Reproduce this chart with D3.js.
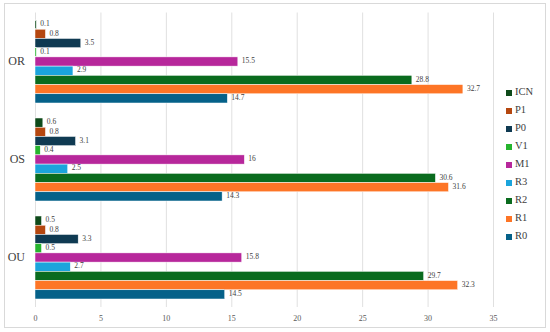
<!DOCTYPE html>
<html>
<head>
<meta charset="utf-8">
<script src="https://cdn.jsdelivr.net/npm/d3@7"></script>
<style>
  body { margin: 0; background: #fff; }
  svg text { font-family: "Liberation Serif", "DejaVu Serif", serif; }
</style>
</head>
<body>
<svg id="chart" width="550" height="332"></svg>
<script>
// Data
var groups = ['OR', 'OS', 'OU'];
var series = ['ICN', 'P1', 'P0', 'V1', 'M1', 'R3', 'R2', 'R1', 'R0'];
var valuesOR = [0.1, 0.8, 3.5, 0.1, 15.5, 2.9, 28.8, 32.7, 14.7];
var valuesOS = [0.6, 0.8, 3.1, 0.4, 16, 2.5, 30.6, 31.6, 14.3];
var valuesOU = [0.5, 0.8, 3.3, 0.5, 15.8, 2.7, 29.7, 32.3, 14.5];
var xTicks = [0, 5, 10, 15, 20, 25, 30, 35];
var colors = ['#0e4a1a', '#b5470f', '#0f3a52', '#26b42e', '#b7279b', '#1ba4dc', '#0a6b1e', '#fd7526', '#056189'];

var groupValues = { OR: valuesOR, OS: valuesOS, OU: valuesOU };

var svg = d3.select('#chart');

// outer frame
svg.append('rect')
  .attr('x', 4.5).attr('y', 3.5).attr('width', 541).attr('height', 324)
  .attr('fill', '#fff').attr('stroke', '#d9d9d9').attr('stroke-width', 1);

var xScale = d3.scaleLinear().domain([0, 35]).range([35, 493]);
var yScale = d3.scaleBand().domain(groups).range([12.5, 306.5])
  .paddingInner(0.153).paddingOuter(0.0765);
var ySub = d3.scaleBand().domain(series).range([0, yScale.bandwidth()]);
var color = d3.scaleOrdinal().domain(series).range(colors);

// gridlines
svg.append('g').selectAll('line').data(xTicks).enter().append('line')
  .attr('x1', function(d){ return xScale(d) + 0.5 }).attr('x2', function(d){ return xScale(d) + 0.5 })
  .attr('y1', 12.5).attr('y2', 307)
  .attr('stroke', '#e0e0e0').attr('stroke-width', 1);

// x axis labels
var xAxis = svg.append('g').attr('transform', 'translate(0,307)')
  .call(d3.axisBottom(xScale).tickValues(xTicks).tickSize(0).tickPadding(8));
xAxis.select('.domain').remove();
xAxis.attr('font-family', null);
xAxis.selectAll('text').attr('font-size', 8).attr('fill', '#595959');

// y axis labels
var yAxis = svg.append('g').attr('transform', 'translate(27,0)')
  .call(d3.axisLeft(yScale).tickSize(0).tickPadding(2));
yAxis.select('.domain').remove();
yAxis.attr('font-family', null);
yAxis.selectAll('text').attr('font-size', 12).attr('fill', '#404040');

// bars
var groupSel = svg.append('g').selectAll('g').data(groups).enter().append('g')
  .attr('transform', function(g){ return 'translate(0,' + yScale(g) + ')' });

var rows = function(g){
  return series.map(function(s, i){ return { group: g, key: s, value: groupValues[g][i] } });
};

groupSel.selectAll('rect').data(rows).enter().append('rect')
  .attr('x', xScale(0))
  .attr('y', function(d){ return ySub(d.key) })
  .attr('width', function(d){ return xScale(d.value) - xScale(0) })
  .attr('height', ySub.bandwidth())
  .attr('fill', function(d){ return color(d.key) })
  .attr('stroke', '#fff').attr('stroke-width', 0.5);

groupSel.selectAll('text.val').data(rows).enter().append('text')
  .attr('class', 'val')
  .attr('x', function(d){ return xScale(d.value) + 4 })
  .attr('y', function(d){ return ySub(d.key) + ySub.bandwidth() / 2 })
  .attr('dominant-baseline', 'middle')
  .attr('font-size', 7.5).attr('fill', '#404040')
  .text(function(d){ return d.value });

// legend
var legend = svg.append('g').attr('transform', 'translate(506,93)');
var item = legend.selectAll('g').data(series).enter().append('g')
  .attr('transform', function(d, i){ return 'translate(0,' + (i * 18) + ')' });
item.append('rect').attr('x', 0).attr('y', -3).attr('width', 6).attr('height', 6)
  .attr('fill', function(d){ return color(d) });
item.append('text').attr('x', 9).attr('y', 0).attr('dominant-baseline', 'middle')
  .attr('font-size', 10.5).attr('fill', '#404040').text(function(d){ return d });
</script>
</body>
</html>
